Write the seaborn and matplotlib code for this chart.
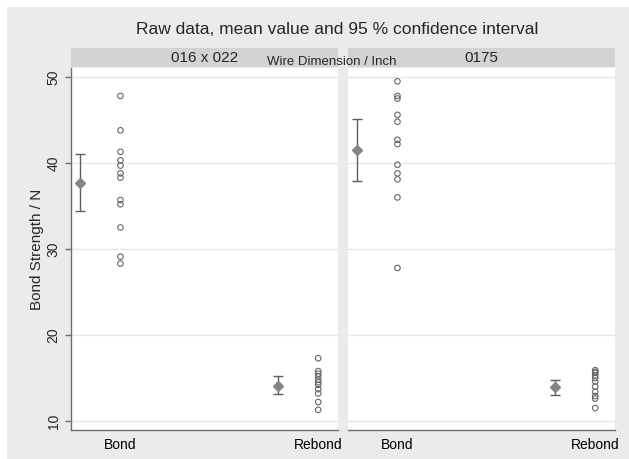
import matplotlib
matplotlib.use("Agg")
import matplotlib.pyplot as plt
import seaborn as sns
import pandas as pd
from matplotlib.patches import Rectangle

sns.set_style("white")
plt.rcParams['font.family'] = ['Liberation Sans', 'DejaVu Sans']

# ---- data ----
groups = ["016 x 022", "0175"]
conditions = ["Bond", "Rebond"]

bond_016 = [47.8, 43.8, 41.3, 40.3, 39.7, 38.8, 38.3, 35.7, 35.2, 32.5, 29.1, 28.3]
rebond_016 = [17.3, 15.8, 15.5, 15.2, 14.8, 14.5, 14.2, 13.7, 13.2, 12.2, 11.3]
bond_0175 = [49.5, 47.8, 47.5, 45.6, 44.8, 42.7, 42.2, 39.8, 38.8, 38.1, 36.0, 27.8]
rebond_0175 = [15.9, 15.7, 15.6, 15.3, 15.0, 14.6, 14.0, 13.4, 12.9, 12.6, 11.5]

mean_016 = [37.7, 14.1]
lo_016 = [34.4, 13.1]
hi_016 = [41.0, 15.2]
mean_0175 = [41.5, 13.9]
lo_0175 = [37.9, 13.0]
hi_0175 = [45.1, 14.8]

yticks = [10, 20, 30, 40, 50]

title = "Raw data, mean value and 95 % confidence interval"
ylabel = "Bond Strength / N"
facet_label = "Wire Dimension / Inch"

raw = {groups[0]: [bond_016, rebond_016], groups[1]: [bond_0175, rebond_0175]}
stats = {groups[0]: (mean_016, lo_016, hi_016), groups[1]: (mean_0175, lo_0175, hi_0175)}

W, H = 629, 459
fig = plt.figure(figsize=(W / 100, H / 100), dpi=100, facecolor="white")
fig.patches.append(Rectangle((7 / W, 0), 1 - 7 / W, 1 - 7 / H, transform=fig.transFigure,
                             facecolor="#ebebeb", edgecolor="none", zorder=-10))

def fx(px):
    return px / W

def fy(py):
    return (H - py) / H

panels = [(71, 338), (348, 615)]
top, bottom = 68, 430
strip_top, strip_bot = 48, 67
gray_line = "#6e6e6e"

for gi, (g, (x0, x1)) in enumerate(zip(groups, panels)):
    ax = fig.add_axes([fx(x0), fy(bottom), fx(x1) - fx(x0), fy(top) - fy(bottom)])
    ax.set_facecolor("white")
    rows = []
    for ci, c in enumerate(conditions):
        for v in raw[g][ci]:
            rows.append({"x": ci, "y": v})
    df = pd.DataFrame(rows)
    sns.scatterplot(data=df, x="x", y="y", ax=ax, marker="o", s=16,
                    facecolor="none", edgecolor="#666666", linewidth=0.8, zorder=3)
    m, lo, hi = stats[g]
    xs = [i - 0.202 for i in range(len(conditions))]
    err = [[mm - l for mm, l in zip(m, lo)], [h - mm for mm, h in zip(m, hi)]]
    ax.errorbar(xs, m, yerr=err, fmt="D", color="#858585", ecolor="#5e5e5e",
                markersize=5.5, elinewidth=1.0, capsize=3.5, capthick=1.0, zorder=4)
    ax.set_xlim(-0.25, 1.10)
    ax.set_ylim(8.95, 51.05)
    ax.set_yticks(yticks)
    for t in yticks:
        ax.axhline(t, color="#e6e6e6", linewidth=1.0, zorder=1)
    ax.set_xticks(range(len(conditions)))
    ax.set_xticklabels(conditions, fontsize=10)
    ax.tick_params(axis="x", length=0, pad=6, colors="black")
    ax.set_xlabel("")
    for s in ["top", "right"]:
        ax.spines[s].set_visible(False)
    ax.spines["bottom"].set_color(gray_line)
    ax.spines["bottom"].set_linewidth(1.0)
    if gi == 0:
        ax.spines["left"].set_color(gray_line)
        ax.spines["left"].set_linewidth(1.0)
        ax.tick_params(axis="y", length=4, width=1.0, color=gray_line, labelsize=10,
                       labelrotation=90, direction="out", left=True)
        for lab in ax.get_yticklabels():
            lab.set_va("center")
        ax.set_ylabel(ylabel, fontsize=11, labelpad=2)
    else:
        ax.spines["left"].set_visible(False)
        ax.tick_params(axis="y", left=False, labelleft=False)
        ax.set_ylabel("")
    # strip
    sax = fig.add_axes([fx(x0), fy(strip_bot), fx(x1) - fx(x0), fy(strip_top) - fy(strip_bot)])
    sax.set_facecolor("#d3d3d3")
    sax.set_xticks([]); sax.set_yticks([])
    for s in sax.spines.values():
        s.set_visible(False)
    sax.text(0.5, 0.5, g, ha="center", va="center", fontsize=11, transform=sax.transAxes)

fig.text(fx(332), fy(62), facet_label, ha="center", va="center", fontsize=9.5, zorder=20)
fig.text(fx(337), fy(30), title, ha="center", va="center", fontsize=12.5)

fig.savefig("out.png", dpi=100, facecolor=fig.get_facecolor())
